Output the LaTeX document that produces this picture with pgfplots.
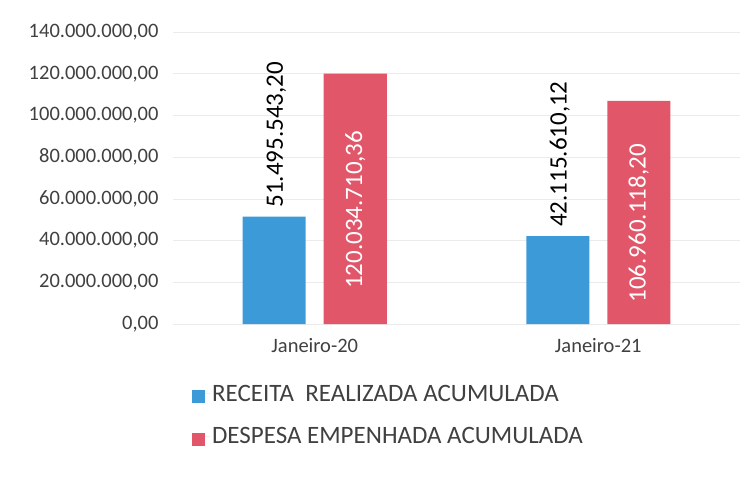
\documentclass[border=0pt]{standalone}
\usepackage{fontspec}
\setmainfont{Carlito}
\usepackage{pgfplots}
\pgfplotsset{compat=1.18}
\definecolor{cblue}{HTML}{3D9AD8}
\definecolor{cred}{HTML}{E2566A}
\definecolor{ctext}{HTML}{404040}
\begin{document}
\begin{tikzpicture}
\begin{axis}[name=ax, scale only axis, width=567bp, height=292bp,
  xmin=-0.5, xmax=1.5, ymin=0, ymax=140000000,
  scaled y ticks=false,
  ybar, bar width=63bp,
  xtick={0,1}, xticklabels={Janeiro-20,Janeiro-21},
  ytick={0,20000000,40000000,60000000,80000000,100000000,120000000,140000000},
  yticklabels={{0,00},{20.000.000,00},{40.000.000,00},{60.000.000,00},{80.000.000,00},{100.000.000,00},{120.000.000,00},{140.000.000,00}},
  axis line style={draw=none}, major tick length=0pt,
  ymajorgrids, grid style={black!8, line width=0.6pt},
  tick label style={font=\fontsize{20.5bp}{24bp}\selectfont, text=ctext},
  yticklabel style={xshift=-11bp},
  xticklabel style={yshift=-11bp},
  clip=false,
  legend style={at={(0.028,-0.194)}, anchor=north west, draw=none, fill=none,
    font=\fontsize{25bp}{30bp}\selectfont, text=ctext, row sep=21bp},
  legend cell align=left,
  legend image code/.code={\fill[#1] (0bp,-9.5bp) rectangle (13bp,3.5bp); \path (0bp,0bp) -- (18bp,0bp);},
]
\addplot[fill=cblue, draw=none, bar shift=-40.5bp,
  nodes near coords, point meta=explicit symbolic,
  every node near coord/.append style={xshift=2bp, rotate=90, anchor=west, text=black, inner sep=9bp,
    font=\fontsize{25bp}{30bp}\selectfont}]
  coordinates {(0,51495543.20) [51.495.543,20] (1,42115610.12) [42.115.610,12]};
\addlegendentry{RECEITA\ \ REALIZADA ACUMULADA}
\addplot[fill=cred, draw=none, bar shift=40.5bp]
  coordinates {(0,120034710.36) (1,106960118.20)};
\addlegendentry{DESPESA EMPENHADA ACUMULADA}
\addplot[draw=none, fill=none, bar shift=40.5bp, forget plot,
  nodes near coords, point meta=explicit symbolic,
  every node near coord/.append style={yshift=-11bp, rotate=90, anchor=center, text=white,
    font=\fontsize{25bp}{30bp}\selectfont}]
  coordinates {(0,60017355.18) [120.034.710,36] (1,53480059.10) [106.960.118,20]};
\end{axis}
\path ([shift={(-173bp,-153bp)}]ax.south west) rectangle ([shift={(579bp,324bp)}]ax.south west);
\end{tikzpicture}
\end{document}
